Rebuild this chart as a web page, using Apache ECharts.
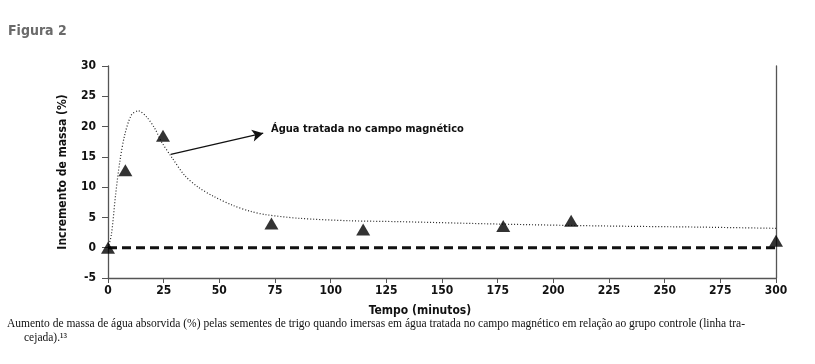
<!DOCTYPE html>
<html><head><meta charset="utf-8">
<script src="https://cdn.jsdelivr.net/npm/echarts@6/dist/echarts.min.js"></script>
<style>html,body{margin:0;padding:0;background:#fff}#c{width:815px;height:364px}</style>
</head><body><div id="c"></div>
<script>
// Measured triangles (time in minutes, mass increment %)
const pointTimes  = [0, 7.8, 24.7, 73.4, 114.6, 177.5, 208, 300];
const pointValues = [0, 12.8, 18.5, 4.0, 3.0, 3.6, 4.45, 1.15];
// Dotted fitted curve
const curveTimes  = [0, 1.5, 3.4, 5.3, 7.5, 10.5, 13.6, 17.3, 21, 24, 28.5, 34.5, 40.5, 47.3, 56, 64, 71, 86, 108.7, 131, 176, 221, 266, 300];
const curveValues = [0, 2.1, 8.7, 14.2, 18.6, 21.9, 22.6, 21.6, 19.7, 17.5, 15.0, 11.9, 10.0, 8.5, 7.0, 6.0, 5.45, 4.85, 4.45, 4.3, 3.9, 3.6, 3.4, 3.2];
// Control (dashed) line
const controlTimes = [0, 300];
const controlValues = [0, 0];
const xTicks = [0, 25, 50, 75, 100, 125, 150, 175, 200, 225, 250, 275, 300];
const yTicks = [-5, 0, 5, 10, 15, 20, 25, 30];
const annotationText = 'Água tratada no campo magnético';
const arrowFrom = [28.2, 15.4];
const arrowTo = [69.7, 18.9];
const labelAt = [73.2, 19.6];

const COND = "'Liberation Sans Narrow','DejaVu Sans Condensed','Roboto Condensed',sans-serif";
const SERIF = "'Liberation Serif','DejaVu Serif',serif";
const axisColor = '#555';
const chart = echarts.init(document.getElementById('c'), null, {renderer: 'canvas'});
const zip = (a, b) => a.map((v, i) => [v, b[i]]);
chart.setOption({
  animation: false,
  grid: {left: 108, right: 39, top: 66, bottom: 86, containLabel: false},
  xAxis: {
    type: 'value', min: 0, max: 300, interval: 25,
    name: 'Tempo (minutos)', nameLocation: 'middle', nameGap: 27,
    nameTextStyle: {fontFamily: COND, fontWeight: 'bold', fontSize: 12, color: '#111', padding: [0, 44, 0, 0]},
    axisLine: {show: true, onZero: false, lineStyle: {color: axisColor, width: 1.3}},
    axisTick: {show: true, inside: false, length: 5, lineStyle: {color: axisColor}},
    axisLabel: {fontFamily: COND, fontWeight: 'bold', fontSize: 12, color: '#111', margin: 7,
      formatter: v => xTicks.includes(v) ? String(v) : ''},
    splitLine: {show: false}
  },
  yAxis: [{
    type: 'value', min: -5, max: 30, interval: 5,
    name: 'Incremento de massa (%)', nameLocation: 'middle', nameGap: 39, nameRotate: 90,
    nameTextStyle: {fontFamily: COND, fontWeight: 'bold', fontSize: 12, color: '#111'},
    axisLine: {show: true, onZero: false, lineStyle: {color: axisColor, width: 1.3}},
    axisTick: {show: true, length: 6, lineStyle: {color: axisColor}},
    axisLabel: {fontFamily: COND, fontWeight: 'bold', fontSize: 12, color: '#111', margin: 12,
      formatter: v => yTicks.includes(v) ? String(v) : ''},
    splitLine: {show: false}
  }, {
    type: 'value', min: -5, max: 30, interval: 5, position: 'right',
    axisLine: {show: true, onZero: false, lineStyle: {color: axisColor, width: 1.3}},
    axisTick: {show: false}, axisLabel: {show: false}, splitLine: {show: false}
  }],
  series: [
    {
      type: 'line', data: zip(controlTimes, controlValues), symbol: 'none',
      lineStyle: {color: '#111', width: 3, type: [9, 5]}, z: 2
    },
    {
      type: 'line', data: zip(curveTimes, curveValues), symbol: 'none', smooth: 0.3,
      lineStyle: {color: '#222', width: 1.2, type: [1, 2]}, z: 3,
      markLine: {
        silent: true, symbol: ['none', 'arrow'], symbolSize: [9, 11],
        lineStyle: {color: '#111', width: 1.3, type: 'solid'},
        label: {show: false},
        data: [[{coord: arrowFrom}, {coord: arrowTo}]]
      },
      markPoint: {
        silent: true, symbol: 'circle', symbolSize: 0,
        data: [{coord: labelAt, value: annotationText}],
        label: {show: true, position: 'right', distance: 0, formatter: annotationText,
          fontFamily: COND, fontWeight: 'bold', fontSize: 11, color: '#111'}
      }
    },
    {
      type: 'scatter', data: zip(pointTimes, pointValues), symbol: 'triangle', symbolSize: [14, 12],
      itemStyle: {color: '#000'}, z: 5
    }
  ],
  graphic: [
    {type: 'text', left: 8, top: 24, style: {text: 'Figura 2', fontFamily: COND, fontWeight: 'bold', fontSize: 14, fill: '#6a6a6a'}},
    {type: 'text', left: 7, top: 318, style: {text: 'Aumento de massa de água absorvida (%) pelas sementes de trigo quando imersas em água tratada no campo magnético em relação ao grupo controle (linha tra-', fontFamily: SERIF, fontSize: 11.5, fill: '#111'}},
    {type: 'text', left: 24, top: 332, style: {text: 'cejada).¹³', fontFamily: SERIF, fontSize: 11.5, fill: '#111'}}
  ]
});
</script></body></html>
